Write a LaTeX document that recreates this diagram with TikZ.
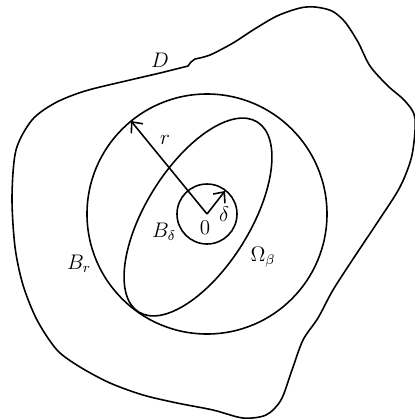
\documentclass[tikz,border=0pt]{standalone}
\usetikzlibrary{arrows.meta}

\begin{document}
\begin{tikzpicture}[
  x=0.02cm, y=-0.02cm,
  curve/.style={line width=0.9pt, black},
  radline/.style={-{Straight Barb[length=1.7mm, width=3mm]}, line width=0.9pt},
  lbl/.style={inner sep=0pt, font=\fontsize{12}{14}\selectfont},
]
  \useasboundingbox (0,0) rectangle (414,420);

  \coordinate (O) at (207,214);
  \coordinate (rtip) at (131,121);
  \coordinate (dtip) at (225,191);

  \draw[curve] plot[smooth] coordinates {
      (195,59) (210,55) (233,43) (253,30) (277,16) (300,8) (315,7) (332,11)
      (345,22) (358,42) (370,66) (388,86) (405,101) (415,118) (412,155)
      (400,187) (377,223) (355,256) (333,290) (318,318) (303,340) (292,370)
      (281,400) (266,415) (243,418) (213,410) (177,403) (143,395) (110,383)
      (80,367) (57,350) (37,320) (23,285) (15,247) (12,197) (16,150)
      (32,120) (55,103) (85,91) (130,80) (160,73) (188,66)}
    -- (191,62) -- cycle;

  \draw[curve] (O) circle[radius=120];
  \draw[curve] (O) circle[radius=30];
  \draw[curve, shift={(198,217)}, rotate=58] (0,0) ellipse[x radius=112, y radius=52];

  \draw[radline] (O) -- (rtip);
  \draw[radline] (O) -- (dtip);

  \node[lbl] (Dlab) at (160,60) {$D$};
  \node[lbl] (rlab) at (165,140) {$r$};
  \node[lbl] (dlab) at (224,214) {$\delta$};
  \node[lbl] (olab) at (205,228) {$0$};
  \node[lbl] (Bdlab) at (164,232) {$B_\delta$};
  \node[lbl] (Omlab) at (263,257) {$\Omega_\beta$};
  \node[lbl] (Brlab) at (79,264) {$B_r$};
\end{tikzpicture}
\end{document}
